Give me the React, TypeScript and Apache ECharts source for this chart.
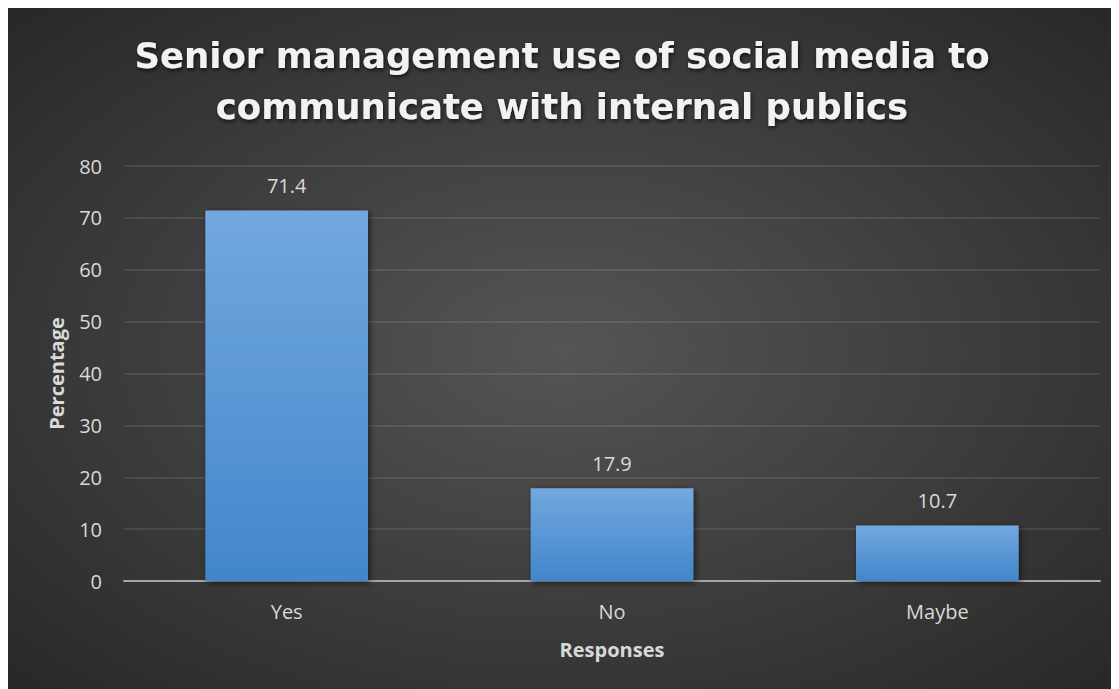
import React, { useEffect, useRef } from "react";
import * as echarts from "echarts";

const categories = ["Yes", "No", "Maybe"];
const values = [71.4, 17.9, 10.7];
const titleLines = ["Senior management use of social media to", "communicate with internal publics"];
const yAxisName = "Percentage";
const xAxisName = "Responses";

export default function App() {
  const ref = useRef<HTMLDivElement>(null);
  useEffect(() => {
    if (!ref.current) return;
    const chart = echarts.init(ref.current, undefined, { renderer: "svg" });
    const font = "'Open Sans', 'Noto Sans', sans-serif";
    chart.setOption({
      animation: false,
      backgroundColor: {
        type: "radial",
        x: 0.5,
        y: 0.5,
        r: 0.75,
        colorStops: [
          { offset: 0, color: "#555555" },
          { offset: 1, color: "#252525" },
        ],
      },
      title: {
        text: titleLines.join("\n"),
        left: "center",
        top: 17,
        textStyle: {
          color: "#f2f2f2",
          fontFamily: "'DejaVu Sans', sans-serif",
          fontWeight: "bold",
          fontSize: 35.5,
          lineHeight: 51,
          textShadowColor: "rgba(0,0,0,0.7)",
          textShadowBlur: 4,
          textShadowOffsetX: 1,
          textShadowOffsetY: 2,
        },
      },
      grid: { left: 116, right: 16, top: 158, bottom: 108 },
      xAxis: {
        type: "category",
        data: categories,
        name: xAxisName,
        nameLocation: "middle",
        nameGap: 58,
        nameTextStyle: { color: "#d9d9d9", fontFamily: font, fontWeight: "bold", fontSize: 20 },
        axisLine: { lineStyle: { color: "#a6a6a6", width: 2 } },
        axisTick: { show: false },
        axisLabel: { color: "#d9d9d9", fontFamily: font, fontSize: 20, margin: 20 },
      },
      yAxis: {
        type: "value",
        min: 0,
        max: 80,
        interval: 10,
        name: yAxisName,
        nameLocation: "middle",
        nameGap: 58,
        nameTextStyle: { color: "#d9d9d9", fontFamily: font, fontWeight: "bold", fontSize: 20 },
        axisLine: { show: false },
        axisTick: { show: false },
        axisLabel: { color: "#d9d9d9", fontFamily: font, fontSize: 20, margin: 22 },
        splitLine: { lineStyle: { color: "rgba(255,255,255,0.12)", width: 1.5 } },
      },
      series: [
        {
          type: "bar",
          data: values,
          barCategoryGap: "50%",
          itemStyle: {
            color: {
              type: "linear",
              x: 0,
              y: 0,
              x2: 0,
              y2: 1,
              colorStops: [
                { offset: 0, color: "#72a8de" },
                { offset: 1, color: "#4286cc" },
              ],
            },
            shadowColor: "rgba(0,0,0,0.55)",
            shadowBlur: 6,
            shadowOffsetX: 2,
            shadowOffsetY: 2,
          },
          label: {
            show: true,
            position: "top",
            distance: 15,
            color: "#d9d9d9",
            fontFamily: font,
            fontSize: 20,
          },
        },
      ],
    });
    return () => chart.dispose();
  }, []);
  return <div ref={ref} style={{ width: 1108, height: 681 }} />;
}
